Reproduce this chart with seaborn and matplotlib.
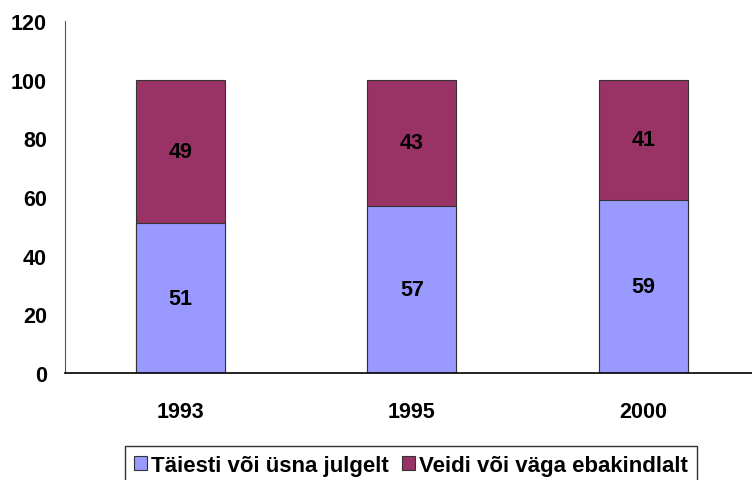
import matplotlib
matplotlib.use("Agg")
import matplotlib.pyplot as plt
from matplotlib.patches import Patch
import seaborn as sns
import pandas as pd

# data
years = ["1993", "1995", "2000"]
confident = [51, 57, 59]
unsure = [49, 43, 41]
series_names = ["Täiesti või üsna julgelt", "Veidi või väga ebakindlalt"]
colors = ["#9999FF", "#993366"]

df = pd.DataFrame({"year": years, "confident": confident, "unsure": unsure})
df["total"] = df["confident"] + df["unsure"]

sns.set_style("white")
plt.rcParams["font.family"] = ["Liberation Sans", "DejaVu Sans"]
plt.rcParams["font.weight"] = "bold"
plt.rcParams["text.color"] = "black"
plt.rcParams["xtick.color"] = "black"
plt.rcParams["ytick.color"] = "black"

FS = 15.5

fig = plt.figure(figsize=(7.52, 4.81), dpi=100)
ax = fig.add_axes([65 / 752, 1 - 374 / 481, 687 / 752, (374 - 22) / 481])

# stacked bars: draw total first, then the lower segment on top
sns.barplot(data=df, x="year", y="total", color=colors[1], width=0.385,
            edgecolor="#333333", linewidth=0.8, saturation=1, ax=ax)
sns.barplot(data=df, x="year", y="confident", color=colors[0], width=0.385,
            edgecolor="#333333", linewidth=0.8, saturation=1, ax=ax)

for i, row in df.iterrows():
    ax.text(i, row["confident"] / 2, str(row["confident"]), ha="center", va="center",
            fontsize=FS, fontweight="bold", color="black")
    ax.text(i, row["confident"] + row["unsure"] / 2, str(row["unsure"]), ha="center",
            va="center", fontsize=FS, fontweight="bold", color="black")

ax.set_ylim(0, 120)
ax.set_yticks(range(0, 121, 20))
ax.set_xlim(-0.5, 2.47)
ax.set_xlabel("")
ax.set_ylabel("")
for s in ["top", "right"]:
    ax.spines[s].set_visible(False)
ax.spines["left"].set_color("#555555")
ax.spines["bottom"].set_color("black")
ax.spines["bottom"].set_linewidth(1.2)

ax.set_xticks([-0.5, 0.5, 1.5], minor=True)
ax.tick_params(axis="x", which="major", length=0, pad=20, labelsize=FS, labelcolor="black")
ax.tick_params(axis="x", which="minor", length=5, direction="out", color="#555555")
ax.tick_params(axis="y", length=6, direction="out", color="#555555", labelsize=FS,
               pad=7, labelcolor="black")
for lab in ax.get_xticklabels() + ax.get_yticklabels():
    lab.set_fontweight("bold")

handles = [Patch(facecolor=c, edgecolor="#333333", linewidth=0.8) for c in colors]
leg = fig.legend(handles, series_names, loc="upper center", ncol=2,
                 bbox_to_anchor=(411 / 752, 1 - 447 / 481), frameon=True,
                 fancybox=False, edgecolor="black", borderpad=0.4, borderaxespad=0,
                 handlelength=0.6, handleheight=0.6, handletextpad=0.18,
                 columnspacing=0.6, prop={"size": 16, "weight": "bold"})
leg.get_frame().set_linewidth(1.0)

fig.savefig("out.png", dpi=100)
